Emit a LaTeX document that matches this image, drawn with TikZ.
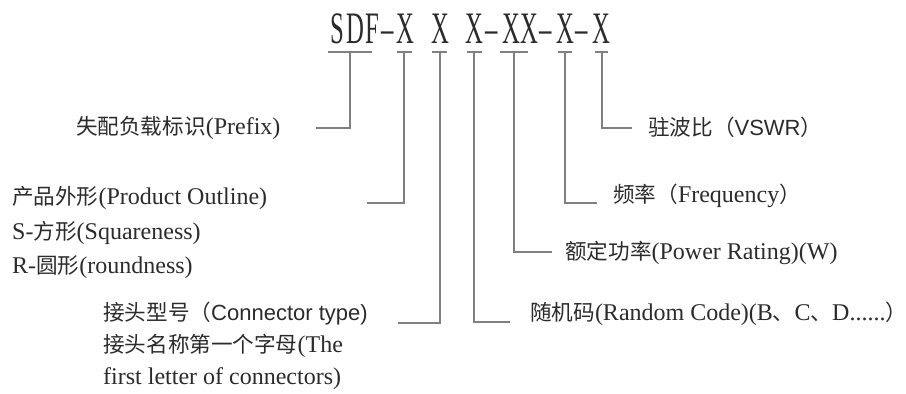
\documentclass[tikz,border=0pt]{standalone}
\usepackage{fontspec}
\setmainfont{Liberation Serif}
\newfontfamily\cjk{Noto Sans CJK SC}[Scale=0.9]
\newfontfamily\lsans{Liberation Sans}
\newcommand{\zh}[1]{{\cjk #1}}
\newcommand{\sa}[1]{{\lsans\fontsize{22}{26}\selectfont #1}}
\definecolor{txt}{HTML}{2B2B2B}
\definecolor{lne}{HTML}{808080}
\tikzset{
  tch/.style={font=\fontsize{45}{50}\selectfont, anchor=base, xscale=0.55, inner sep=0pt, text=txt},
  lbl/.style={font=\fontsize{24}{28}\selectfont, anchor=base west, inner sep=0pt, text=txt},
  ln/.style={draw=lne, line width=1.2pt},
}
\begin{document}
\begin{tikzpicture}[x=1pt,y=-1pt]
\useasboundingbox (0,0) rectangle (906,394);
% title characters
\node[tch] (t1) at (337,43) {S};
\node[tch] (t2) at (355,43) {D};
\node[tch] (t3) at (372,43) {F};
\node[tch] (t4) at (388,43) {–};
\node[tch] (t5) at (405,43) {X};
\node[tch] (t6) at (440,43) {X};
\node[tch] (t7) at (474,43) {X};
\node[tch] (t8) at (492,43) {–};
\node[tch] (t9) at (511,43) {X};
\node[tch] (t10) at (529,43) {X};
\node[tch] (t11) at (546,43) {–};
\node[tch] (t12) at (565,43) {X};
\node[tch] (t13) at (582,43) {–};
\node[tch] (t14) at (601,43) {X};
% underlines
\draw[ln] (328,52) -- (372,52);
\draw[ln] (397,52) -- (412,52);
\draw[ln] (432,52) -- (447,52);
\draw[ln] (467,52) -- (482,52);
\draw[ln] (500,52) -- (528,52);
\draw[ln] (558,52) -- (572,52);
\draw[ln] (595,52) -- (608,52);
% connector coordinates
\coordinate (a1) at (350,52); \coordinate (a1e) at (316,128);
\coordinate (a2) at (404,52); \coordinate (a2e) at (367,203);
\coordinate (a3) at (440,52); \coordinate (a3e) at (398,323);
\coordinate (a4) at (474,52); \coordinate (a4e) at (510,322);
\coordinate (a5) at (514,52); \coordinate (a5e) at (552,252);
\coordinate (a6) at (565,52); \coordinate (a6e) at (597,203);
\coordinate (a7) at (602,52); \coordinate (a7e) at (632,128);
\draw[ln] (a1) |- (a1e);
\draw[ln] (a2) |- (a2e);
\draw[ln] (a3) |- (a3e);
\draw[ln] (a4) |- (a4e);
\draw[ln] (a5) |- (a5e);
\draw[ln] (a6) |- (a6e);
\draw[ln] (a7) |- (a7e);
% labels
\node[lbl] (pfx) at (76,134) {\zh{失配负载标识}(Prefix)};
\node[lbl] (po1) at (12,204) {\zh{产品外形}(Product Outline)};
\node[lbl] (po2) at (12,239) {S-\zh{方形}(Squareness)};
\node[lbl] (po3) at (12,273) {R-\zh{圆形}(roundness)};
\node[lbl] (ct1) at (103,320) {\zh{接头型号（}\sa{Connector type)}};
\node[lbl] (ct2) at (103,352) {\zh{接头名称第一个字母}(The};
\node[lbl] (ct3) at (103,384) {first letter of connectors)};
\node[lbl] (rc) at (530,320) {\zh{随机码}(Random Code)(B\zh{、}C\zh{、}D......\zh{）}};
\node[lbl] (pr) at (565,259) {\zh{额定功率}(Power Rating)(W)};
\node[lbl] (fq) at (613,202) {\zh{频率（}Frequency\zh{）}};
\node[lbl] (vs) at (648,135) {\zh{驻波比（}\sa{VSWR}\zh{）}};
\end{tikzpicture}
\end{document}
